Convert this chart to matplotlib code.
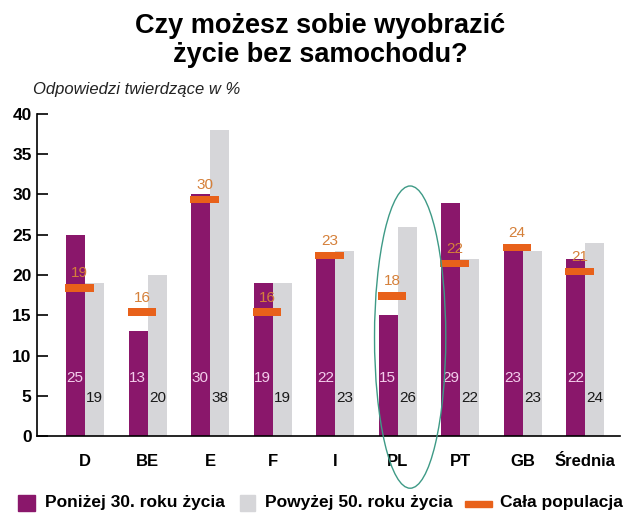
import matplotlib
matplotlib.use("Agg")
import matplotlib.pyplot as plt
from matplotlib.patches import Ellipse, Rectangle
import numpy as np

plt.rcParams['font.family'] = ['Liberation Sans', 'DejaVu Sans']

categories = ["D", "BE", "E", "F", "I", "PL", "PT", "GB", "Średnia"]
under30 = [25, 13, 30, 19, 22, 15, 29, 23, 22]
over50 = [19, 20, 38, 19, 23, 26, 22, 23, 24]
population = [19, 16, 30, 16, 23, 18, 22, 24, 21]
yticks = [0, 5, 10, 15, 20, 25, 30, 35, 40]

PURPLE = "#8A176B"
GREY = "#D6D6D9"
ORANGE = "#E8611A"
ORANGE_TXT = "#D5803A"
LABEL_PINK = "#F3CDEB"

fig = plt.figure(figsize=(6.4, 5.32), dpi=100)
ax = fig.add_axes([0.058, 0.180, 0.911, 0.606])

x = np.arange(len(categories))
w = 0.304
ax.bar(x, under30, width=-w, align='edge', color=PURPLE, zorder=2)
ax.bar(x, over50, width=w, align='edge', color=GREY, zorder=2)

mshift = -0.09
mw = 0.46
ax.bar(x + mshift, [0.9] * len(x), bottom=np.array(population) - 1.05, width=mw,
       color=ORANGE, zorder=3)

for i in range(len(x)):
    ax.text(x[i] - w + 0.01, 7.2, str(under30[i]), color=LABEL_PINK, fontsize=11,
            ha='left', va='center', zorder=4)
    ax.text(x[i] + 0.02, 4.8, str(over50[i]), color="#1a1a1a", fontsize=11,
            ha='left', va='center', zorder=4)
    ax.text(x[i] + mshift, population[i] + 1.2, str(population[i]), color=ORANGE_TXT,
            fontsize=11, ha='center', va='center', zorder=4)

ax.set_xlim(-0.768, 8.56)
ax.set_ylim(0, 40)
ax.set_yticks(yticks)
ax.set_yticklabels([str(t) for t in yticks], fontsize=12.5, fontweight='bold')
ax.tick_params(axis='y', direction='in', length=8, width=1.2, pad=4)
ax.set_xticks(x)
ax.set_xticklabels(categories, fontsize=12, fontweight='bold')
ax.tick_params(axis='x', length=0, pad=13)
for s in ['top', 'right']:
    ax.spines[s].set_visible(False)
ax.spines['left'].set_linewidth(1.2)
ax.spines['bottom'].set_linewidth(1.2)

ell = Ellipse((5.2, 12.3), width=1.14, height=37.5, fill=False, edgecolor="#3E9A86",
              linewidth=1.0, clip_on=False, zorder=5)
ax.add_patch(ell)

fig.text(0.5, 0.975, "Czy możesz sobie wyobrazić\nżycie bez samochodu?", ha='center',
         va='top', fontsize=19.5, fontweight='bold', linespacing=1.12)
fig.text(0.052, 0.831, "Odpowiedzi twierdzące w %", ha='left', va='center',
         fontsize=12, style='italic', color="#222222")

# legend
ly = 1 - 503 / 532
fig.patches.append(Rectangle((18 / 640, (532 - 511) / 532), 17 / 640, 16 / 532,
                             transform=fig.transFigure, color=PURPLE))
fig.text(45 / 640, ly, "Poniżej 30. roku życia", ha='left', va='center', fontsize=12.5,
         fontweight='bold')
fig.patches.append(Rectangle((240 / 640, (532 - 511) / 532), 15 / 640, 16 / 532,
                             transform=fig.transFigure, color=GREY))
fig.text(265 / 640, ly, "Powyżej 50. roku życia", ha='left', va='center', fontsize=12.5,
         fontweight='bold')
fig.patches.append(Rectangle((465 / 640, (532 - 507) / 532), 27 / 640, 6 / 532,
                             transform=fig.transFigure, color=ORANGE))
fig.text(500 / 640, ly, "Cała populacja", ha='left', va='center', fontsize=12.5,
         fontweight='bold')

fig.savefig("out.png", dpi=100)
